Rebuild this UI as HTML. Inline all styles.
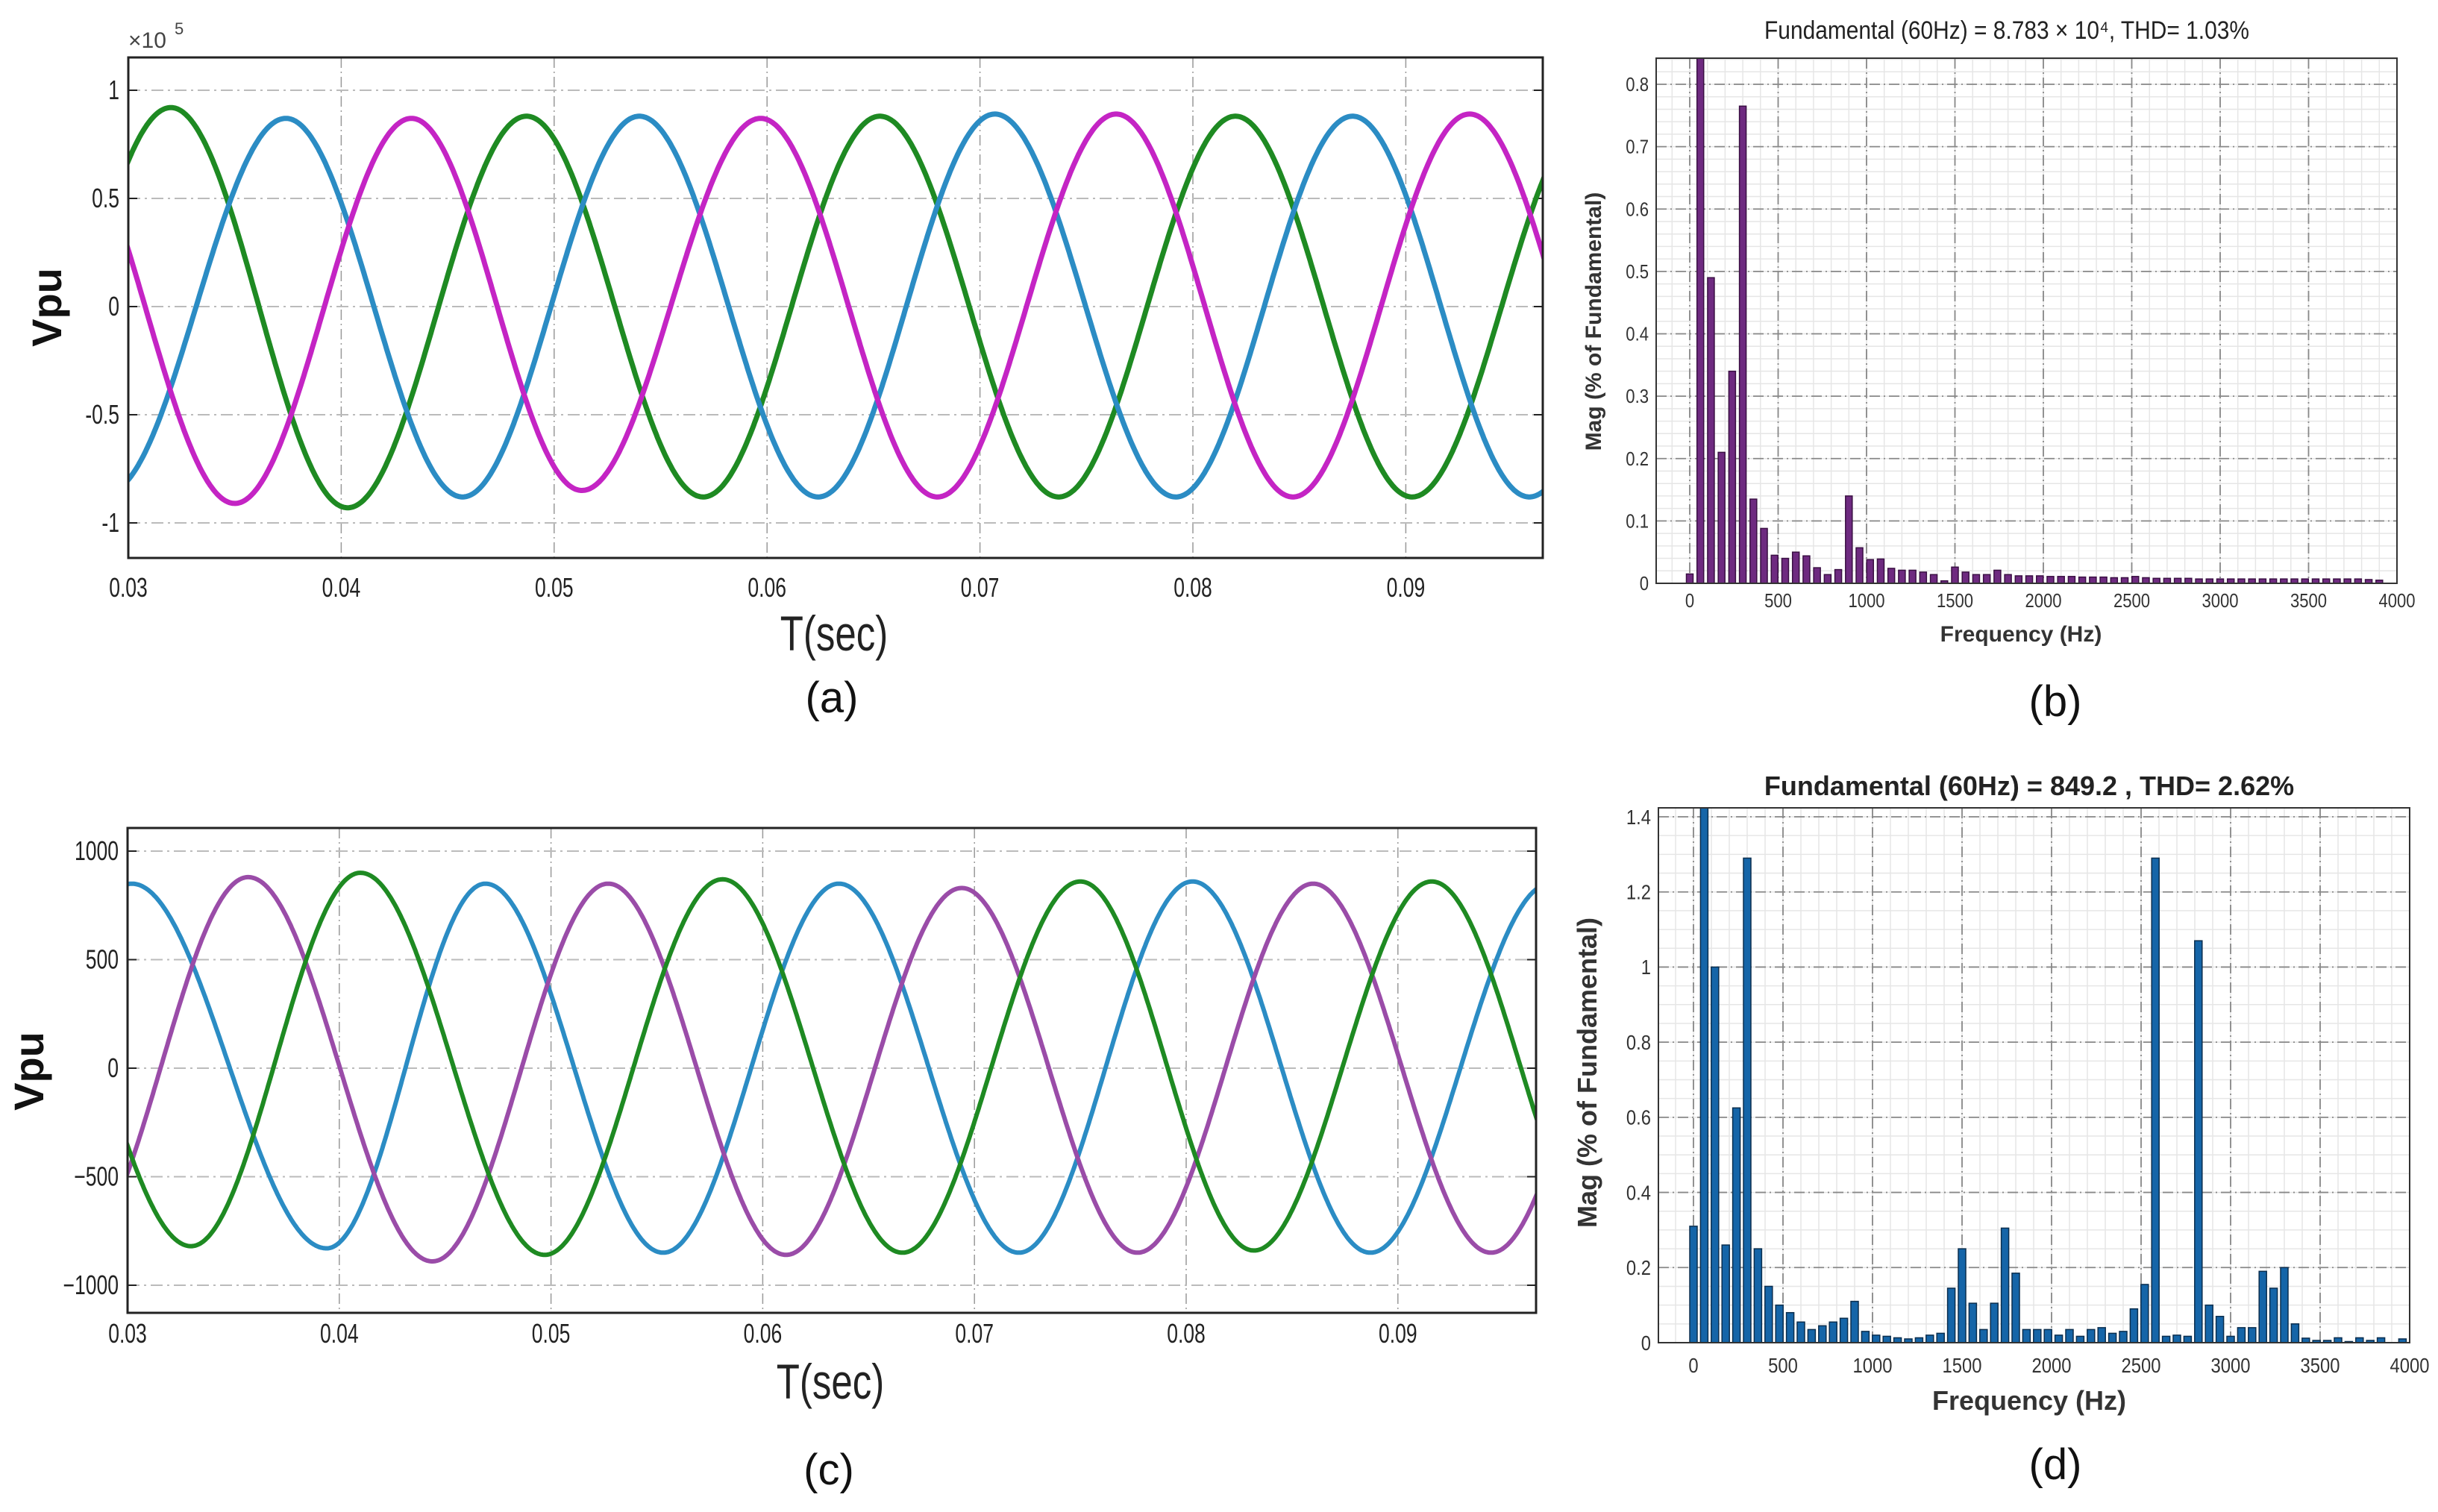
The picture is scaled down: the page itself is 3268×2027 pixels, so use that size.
<!DOCTYPE html>
<html><head><meta charset="utf-8"><style>
html,body{margin:0;padding:0;background:#fff;}
svg{display:block;font-family:"Liberation Sans",sans-serif;}
</style></head><body>
<svg id="fig" width="3268" height="2027" viewBox="0 0 3268 2027" xmlns="http://www.w3.org/2000/svg"></svg>
<script>
// ---------- DATA ----------
const timeTicks = [0.03,0.04,0.05,0.06,0.07,0.08,0.09];
const timeTickLabels = ["0.03","0.04","0.05","0.06","0.07","0.08","0.09"];
const aYTicks = [-1,-0.5,0,0.5,1];
const aYTickLabels = ["-1","-0.5","0","0.5","1"];
const cYTicks = [-1000,-500,0,500,1000];
const cYTickLabels = ["\u22121000","\u2212500","0","500","1000"];
// extrema [time, value] for panel (a)
const aGreenT = [0.0237,0.0320,0.0403,0.0487,0.0570,0.0653,0.0737,0.0820,0.0903,0.0987];
const aGreenV = [-0.88,0.92,-0.93,0.88,-0.88,0.88,-0.88,0.88,-0.88,0.88];
const aBlueT = [0.0290,0.0374,0.0457,0.0540,0.0624,0.0707,0.0792,0.0875,0.0958,0.1042];
const aBlueV = [-0.86,0.87,-0.88,0.88,-0.88,0.89,-0.88,0.88,-0.88,0.88];
const aMagT = [0.0267,0.0350,0.0433,0.0513,0.0597,0.0680,0.0764,0.0847,0.0930,0.1013];
const aMagV = [0.87,-0.91,0.87,-0.85,0.87,-0.88,0.89,-0.88,0.89,-0.88];
// extrema for panel (c)
const cBlueT = [0.0218,0.0302,0.0394,0.0469,0.0553,0.0636,0.0721,0.0803,0.0887,0.0972];
const cBlueV = [-830,850,-830,850,-850,850,-850,860,-850,850];
const cPurT = [0.0275,0.0357,0.0444,0.0527,0.0611,0.0694,0.0777,0.0860,0.0944,0.1027];
const cPurV = [-850,880,-890,850,-860,830,-850,850,-850,850];
const cGreenT = [0.0245,0.0330,0.0410,0.0497,0.0581,0.0666,0.0750,0.0832,0.0916,0.1000];
const cGreenV = [850,-820,900,-860,870,-850,860,-840,860,-850];
// harmonic spectra (b) and (d), 60 Hz spacing starting at 0 Hz
const bMag = [0.015,0.85,0.49,0.21,0.34,0.765,0.135,0.088,0.045,0.04,0.05,0.044,0.025,0.014,0.022,0.14,0.057,0.038,0.039,0.024,0.021,0.021,0.018,0.014,0.004,0.026,0.018,0.014,0.014,0.021,0.014,0.012,0.012,0.012,0.011,0.011,0.011,0.01,0.01,0.01,0.009,0.009,0.011,0.009,0.008,0.008,0.008,0.008,0.007,0.007,0.007,0.007,0.007,0.007,0.007,0.007,0.007,0.007,0.007,0.007,0.007,0.007,0.007,0.007,0.006,0.005];
const dMag = [0.31,1.45,1.0,0.26,0.625,1.29,0.25,0.15,0.10,0.08,0.055,0.035,0.045,0.055,0.065,0.11,0.03,0.02,0.017,0.013,0.01,0.013,0.02,0.025,0.145,0.25,0.105,0.035,0.105,0.305,0.185,0.035,0.035,0.035,0.02,0.035,0.017,0.035,0.04,0.025,0.03,0.09,0.155,1.29,0.017,0.02,0.017,1.07,0.10,0.07,0.017,0.04,0.04,0.19,0.145,0.20,0.05,0.012,0.006,0.006,0.013,0.003,0.013,0.006,0.013,0.0,0.01];
const freqTicks = [0,500,1000,1500,2000,2500,3000,3500,4000];
const bYTicks = [0,0.1,0.2,0.3,0.4,0.5,0.6,0.7,0.8];
const bYTickLabels = ["0","0.1","0.2","0.3","0.4","0.5","0.6","0.7","0.8"];
const dYTicks = [0,0.2,0.4,0.6,0.8,1,1.2,1.4];
const dYTickLabels = ["0","0.2","0.4","0.6","0.8","1","1.2","1.4"];

// ---------- HELPERS ----------
const NS="http://www.w3.org/2000/svg";
const svg=document.getElementById('fig');
function mk(tag,attrs,parent){const e=document.createElementNS(NS,tag);for(const k in attrs)e.setAttribute(k,attrs[k]);(parent||svg).appendChild(e);return e;}
function txt(str,x,y,size,opts,parent){const t=mk('text',Object.assign({x:x,y:y,'font-size':size,fill:'#222'},opts||{}),parent);t.textContent=str;return t;}
function lin(d0,d1,r0,r1){return v=>r0+(v-d0)/(d1-d0)*(r1-r0);}
function curvePath(T,V,xs,ys,t0,t1){
  let d='';const n=1400;
  for(let i=0;i<=n;i++){const t=t0+(t1-t0)*i/n;let k=0;while(k<T.length-2&&t>T[k+1])k++;
    const a=T[k],b=T[k+1],va=V[k],vb=V[k+1];const u=Math.min(1,Math.max(0,(t-a)/(b-a)));
    const v=(va+vb)/2+(va-vb)/2*Math.cos(Math.PI*u);
    d+=(i?'L':'M')+xs(t).toFixed(1)+' '+ys(v).toFixed(1);}
  return d;}

// ---------- TIME PANELS ----------
function timePanel(cfg){
  const g=mk('g',{});
  
  
  const {L,R,T,B}=cfg;
  const xs=lin(0.03,0.03+(R-L)/cfg.pxPer,L,R);
  const ys=lin(cfg.y0,cfg.y1,cfg.py0,cfg.py1);
  const clipId=cfg.name+'-clip';
  const cp=mk('clipPath',{id:clipId},g);mk('rect',{x:L,y:T,width:R-L,height:B-T},cp);
  timeTicks.forEach(t=>{const gl=mk('line',{x1:xs(t),x2:xs(t),y1:T,y2:B,stroke:'#999','stroke-width':1.5,'stroke-dasharray':'14 5 2 5'},g);
    });
  cfg.yt.forEach(v=>{const gl=mk('line',{x1:L,x2:R,y1:ys(v),y2:ys(v),stroke:'#bbb','stroke-width':2,'stroke-dasharray':'16 6 3 6'},g);
    
    mk('line',{x1:L,x2:L+12,y1:ys(v),y2:ys(v),stroke:'#222','stroke-width':2},g);
    mk('line',{x1:R,x2:R-12,y1:ys(v),y2:ys(v),stroke:'#222','stroke-width':2},g);});
  cfg.series.forEach(s=>{const p=mk('path',{d:curvePath(s.T,s.V,xs,ys,0.0295,0.0975),fill:'none',stroke:s.color,'stroke-width':cfg.lw,'stroke-linejoin':'round','clip-path':'url(#'+clipId+')'},g);
    });
  const fr=mk('rect',{x:L,y:T,width:R-L,height:B-T,fill:'none',stroke:'#222','stroke-width':3},g);
  
  timeTicks.forEach((t,i)=>{const e=txt(timeTickLabels[i],0,0,34,{'text-anchor':'middle',transform:`translate(${xs(t)},${cfg.tickY}) scale(0.78,1.05)`},g);
    });
  cfg.yt.forEach((v,i)=>{const e=txt(cfg.ytl[i],0,0,34,{'text-anchor':'end',transform:`translate(${L-12},${ys(v)+12}) scale(0.78,1.05)`},g);
    });
  const xl=txt('T(sec)',0,0,60,{'text-anchor':'middle',transform:`translate(${cfg.xlX},${cfg.xlY}) scale(0.85,1.1)`},g);
  
  const yl=txt('Vpu',0,0,56,{'text-anchor':'middle','font-weight':'bold',fill:'#111',transform:`translate(${cfg.ylX},${cfg.ylY}) rotate(-90)`},g);
  
  const cap=txt(cfg.cap,cfg.capX,cfg.capY,58,{'text-anchor':'middle',fill:'#111'},g);
  
  return g;}

timePanel({name:'panel-a-voltage',L:172,R:2068,T:77,B:748,pxPer:28540,y0:1,y1:-1,py0:121,py1:701,
  yt:aYTicks,ytl:aYTickLabels,lw:7,tickY:800,xlX:1118,xlY:872,ylX:82,ylY:412,cap:'(a)',capX:1115,capY:955,
  series:[{name:'phase-green-line',T:aGreenT,V:aGreenV,color:'#1e8a22'},{name:'phase-blue-line',T:aBlueT,V:aBlueV,color:'#2b8cc4'},{name:'phase-magenta-line',T:aMagT,V:aMagV,color:'#c424c4'}]});
const ex=txt('\u00d710',172,64,30,{fill:'#444'});
const ex5=txt('5',234,46,22,{fill:'#444'});

timePanel({name:'panel-c-voltage',L:171,R:2059,T:1110,B:1760,pxPer:28380,y0:1000,y1:-1000,py0:1141,py1:1723,
  yt:cYTicks,ytl:cYTickLabels,lw:6,tickY:1800,xlX:1113,xlY:1875,ylX:58,ylY:1436,cap:'(c)',capX:1111,capY:1990,
  series:[{name:'phase-blue-line',T:cBlueT,V:cBlueV,color:'#2b8cc4'},{name:'phase-purple-line',T:cPurT,V:cPurV,color:'#9a4ca8'},{name:'phase-green-line',T:cGreenT,V:cGreenV,color:'#1e8a22'}]});

// ---------- SPECTRUM PANELS ----------
function specPanel(cfg){
  const g=mk('g',{});
  
  
  const {L,R,T,B}=cfg;
  const xs=lin(0,4000,cfg.x0px,cfg.x4000px);
  const ys=lin(0,cfg.yRef,B,cfg.yRefPx);
  const clipId=cfg.name+'-clip';
  const cp=mk('clipPath',{id:clipId},g);mk('rect',{x:L,y:T,width:R-L,height:B-T},cp);
  for(let f=-100;f<=4000;f+=100){if(xs(f)<L)continue;mk('line',{x1:xs(f),x2:xs(f),y1:T,y2:B,stroke:'#e6e6e6','stroke-width':1.5},g);}
  for(let v=0;ys(v)>T;v+=cfg.minorY){mk('line',{x1:L,x2:R,y1:ys(v),y2:ys(v),stroke:'#e6e6e6','stroke-width':1.5},g);}
  freqTicks.forEach(f=>{const gl=mk('line',{x1:xs(f),x2:xs(f),y1:T,y2:B,stroke:'#888','stroke-width':1.8,'stroke-dasharray':'14 5 2 5'},g);
    });
  cfg.yt.forEach(v=>{const gl=mk('line',{x1:L,x2:R,y1:ys(v),y2:ys(v),stroke:'#888','stroke-width':1.8,'stroke-dasharray':'14 5 2 5'},g);
    });
  cfg.data.forEach((m,h)=>{const f=h*60;const x=xs(f)-cfg.bw/2;const y=ys(m);
    const r=mk('rect',{x:x,y:y,width:cfg.bw,height:Math.max(0,B-y),fill:cfg.fill,stroke:cfg.stroke,'stroke-width':1.5,'clip-path':'url(#'+clipId+')'},g);
    });
  const fr=mk('rect',{x:L,y:T,width:R-L,height:B-T,fill:'none',stroke:'#333','stroke-width':2},g);
  
  freqTicks.forEach(f=>{const e=txt(String(f),0,0,cfg.tfs,{'text-anchor':'middle',fill:'#333',transform:`translate(${xs(f)},${cfg.tickY}) scale(0.85,1)`},g);
    });
  cfg.yt.forEach((v,i)=>{const e=txt(cfg.ytl[i],0,0,cfg.tfs,{'text-anchor':'end',fill:'#333',transform:`translate(${L-10},${ys(v)+cfg.tfs*0.35}) scale(0.85,1)`},g);
    });
  const ti=txt(cfg.title,0,0,cfg.titleFs,{'text-anchor':'middle','font-weight':cfg.titleW,fill:'#222',transform:`translate(${cfg.titleX},${cfg.titleY}) scale(${cfg.titleSx},1)`},g);
  
  const xl=txt('Frequency (Hz)',cfg.xlX,cfg.xlY,cfg.lfs,{'text-anchor':'middle','font-weight':'bold',fill:'#333'},g);
  
  const yl=txt('Mag (% of Fundamental)',0,0,cfg.lfs,{'text-anchor':'middle','font-weight':'bold',fill:'#333',transform:`translate(${cfg.ylX},${cfg.ylY}) rotate(-90)`},g);
  
  const cap=txt(cfg.cap,cfg.capX,cfg.capY,58,{'text-anchor':'middle',fill:'#111'},g);
  
}
specPanel({name:'panel-b-spectrum',L:2220,R:3213,T:78,B:782,x0px:2265,x4000px:3213,yRef:0.8,yRefPx:113,minorY:0.02,
  data:bMag,bw:9,fill:'#6e2a80',stroke:'#3a1043',yt:bYTicks,ytl:bYTickLabels,tfs:26,tickY:814,
  title:'Fundamental (60Hz) = 8.783 \u00d7 10\u2074, THD= 1.03%',titleX:2690,titleY:52,titleFs:34,titleW:'normal',titleSx:0.88,
  xlX:2709,xlY:860,lfs:30,ylX:2146,ylY:431,cap:'(b)',capX:2755,capY:960});
specPanel({name:'panel-d-spectrum',L:2223,R:3230,T:1083,B:1800,x0px:2270,x4000px:3230,yRef:1.4,yRefPx:1095,minorY:0.05,
  data:dMag,bw:10,fill:'#1565a8',stroke:'#0b2e4e',yt:dYTicks,ytl:dYTickLabels,tfs:28,tickY:1840,
  title:'Fundamental (60Hz) = 849.2 , THD= 2.62%',titleX:2720,titleY:1066,titleFs:36,titleW:'bold',titleSx:1,
  xlX:2720,xlY:1890,lfs:36,ylX:2140,ylY:1438,cap:'(d)',capX:2755,capY:1983});
</script>
</body></html>
